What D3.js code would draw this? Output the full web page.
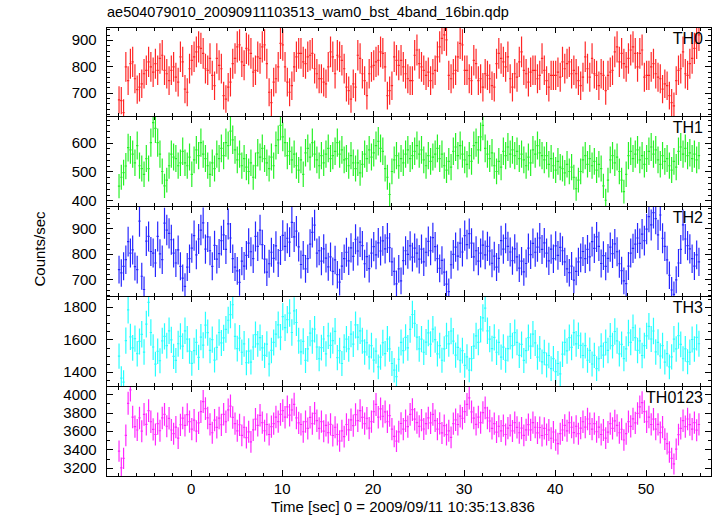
<!DOCTYPE html>
<html><head><meta charset="utf-8">
<script src="https://cdn.jsdelivr.net/npm/d3@7"></script>
<style>
body{margin:0;background:#fff}
svg{display:block}
text{font-family:"Liberation Sans",Arial,Helvetica,sans-serif;fill:#000}
</style>
</head><body>
<svg id="c" width="717" height="516"></svg>
<script>
const title = "ae504079010_20090911103513_wam0_bst_4band_16bin.qdp";
const xLabel = "Time [sec] 0 = 2009/09/11 10:35:13.836";
const yLabel = "Counts/sec";
const bandNames = ["TH0","TH1","TH2","TH3","TH0123"];
const bandColors = ["#ff0000","#00ee00","#0000ff","#00ffff","#ff00ff"];
const binStart = -8, binWidth = 0.25;
const xTickLabels = [0,10,20,30,40,50];
const yTickLabels = [[700,800,900],[400,500,600],[700,800,900],[1400,1600,1800],[3200,3400,3600,3800,4000]];
const yMinorStep = [20,20,20,50,100];
const yDomains = [[609,949],[378,690],[633,985],[1313,1863],[3110,4088]];

const th0 = [673,670,625,798,746,810,817,753,712,721,734,772,785,817,798,778,810,785,830,842,
785,772,746,785,798,759,740,836,817,714,702,791,823,836,855,874,868,849,791,785,
830,766,727,830,804,791,689,676,721,740,810,830,874,881,817,804,868,862,849,778,
785,836,830,874,881,810,702,663,740,753,798,887,881,798,740,702,727,798,836,849,
849,817,810,836,842,849,791,772,753,753,740,734,798,855,836,772,842,836,823,791,
721,708,676,734,721,842,830,772,746,689,772,798,804,817,823,855,849,798,689,708,
727,836,823,804,823,798,772,753,746,746,842,862,810,798,785,766,778,746,772,785,
836,874,906,919,900,766,753,772,785,836,887,881,785,785,753,746,823,810,746,753,
721,772,766,753,727,721,810,849,
830,817,798,836,753,721,772,759,817,855,785,772,740,778,785,785,753,766,830,785,
746,721,766,766,766,778,759,817,791,810,817,772,785,772,746,727,759,836,791,759,
830,772,766,727,772,766,708,766,778,785,855,874,817,849,810,798,830,862,874,849,
798,849,862,759,766,766,798,810,772,759,753,714,734,727,689,663,650,746,785,791,
855,772,766,810,830,868,887,919];

const th1 = [449,480,496,519, 583,575,560,530, 590,520,510,490, 545,510,600,670,
650,600,560,500, 450,470,520,560, 550,545,520,530, 570,530,520,550,
490,540,575,555, 600,560,545,520, 490,530,510,560, 545,580,555,600,
590,640,610,575, 540,560,520,545, 515,500,530,480, 520,565,550,580,
545,530,510,550, 520,590,610,660, 620,600,555,570, 540,560,520,505,
540,490,565,580, 550,600,560,540, 520,555,530,560, 580,545,555,570,
600,560,575,540, 545,520,555,530, 510,530,495,525, 560,545,575,550,
565,590,605,580, 570,510,480,420, 500,540,555,520, 545,530,560,575,
545,555,570,590, 560,575,540,520, 555,535,550,560, 580,545,560,520,
505,535,515,570, 585,555,590,560, 540,525,555,535, 590,600,575,620,
660,580,560,545, 565,520,500,535, 515,570,555,585, 560,575,555,570,
545,560,540,520, 550,530,575,560, 590,565,555,540, 555,525,545,520,
505,535,515,510, 495,525,500,515, 480,440,470,500, 540,555,525,545,
520,535,505,525, 510,450,400,470, 540,555,530,550, 500,470,430,490,
555,570,545,560, 575,540,555,525, 545,570,585,560, 575,540,525,555,
535,545,520,505, 535,515,570,585, 560,580,555,565, 545,560,540,555];

const th2 = [738,725,751,777, 848,803,815,750, 738,928,712,660, 850,868,809,803,
764,868,800,777, 920,893,880,855, 803,764,815,751, 705,672,748,781,
822,871,796,858, 893,921,818,866, 812,751,833,779, 801,852,874,817,
917,862,781,748, 733,688,771,752, 794,842,808,781, 868,829,893,836,
779,728,761,806, 782,831,764,813, 872,829,861,846, 923,866,889,827,
758,794,741,781, 838,884,912,803, 812,771,819,783, 749,788,731,776,
718,689,752,781, 806,772,823,790, 857,811,846,832, 761,789,742,803,
828,796,843,811, 851,819,862,824, 768,731,682,741, 694,773,812,798,
831,787,822,803, 779,818,768,806, 849,812,863,828, 781,743,774,728,
681,652,757,798, 826,791,842,807, 871,836,879,842, 788,812,771,803,
834,796,829,811, 763,791,748,782, 852,818,861,829, 807,773,819,788,
744,771,729,762, 822,797,841,806, 826,862,817,843, 803,772,818,781,
831,794,825,812, 768,741,726,752, 697,731,768,784, 809,781,817,788,
848,821,866,829, 762,793,751,782, 826,801,839,808, 761,734,694,683,
752,803,821,838, 862,841,877,852, 897,946,913,961, 938,874,952,861,
829,776,716,658, 641,698,764,817, 913,858,832,819, 781,752,796,768];

const th3 = [1497,1362,1338,1592, 1781,1615,1548,1604, 1512,1587,1631,1522, 1693,1826,1642,1553,
1448,1527,1469,1591, 1618,1561,1652,1597, 1496,1471,1573,1618, 1559,1652,1601,1528,
1453,1531,1582,1489, 1613,1564,1687,1641, 1532,1598,1473,1551, 1642,1578,1609,1661,
1717,1751,1812,1618, 1543,1608,1521,1572, 1457,1528,1461,1553, 1629,1572,1611,1548,
1502,1571,1449,1532, 1581,1632,1688,1613, 1739,1672,1721,1761, 1642,1774,1703,1591,
1523,1588,1471,1542, 1638,1591,1662,1553, 1481,1549,1602,1511, 1621,1563,1592,1649,
1488,1531,1452,1552, 1601,1542,1632,1571, 1688,1613,1652,1591, 1523,1579,1492,1561,
1473,1528,1431,1491, 1579,1512,1602,1541, 1452,1411,1372,1478, 1581,1531,1612,1548,
1661,1752,1698,1613, 1542,1601,1521,1583, 1639,1571,1662,1598, 1511,1562,1472,1541,
1621,1572,1651,1589, 1503,1551,1472,1531, 1441,1492,1412,1482, 1559,1621,1582,1662,
1731,1791,1652,1601, 1543,1612,1521,1582, 1491,1552,1472,1543, 1619,1561,1641,1582,
1502,1569,1471,1531, 1611,1559,1632,1578, 1491,1542,1462,1519, 1443,1501,1421,1482,
1402,1452,1389,1509, 1581,1529,1611,1551, 1641,1572,1622,1563, 1501,1561,1472,1533,
1449,1502,1421,1481, 1559,1503,1581,1532, 1619,1562,1648,1591, 1511,1569,1482,1541,
1639,1582,1671,1611, 1532,1591,1501,1562, 1621,1679,1602,1651, 1523,1582,1498,1561,
1461,1512,1431,1492, 1601,1541,1623,1569, 1481,1542,1463,1521, 1599,1541,1612,1573];

const th0123 = [3381,3198,3302,3553, 3902,4048,3752,3648, 3611,3742,3598,3781, 3672,3823,3701,3618,
3562,3681,3603,3742, 3781,3652,3738,3611, 3571,3643,3522,3668, 3741,3662,3779,3703,
3621,3718,3598,3689, 3812,3921,3843,3742, 3672,3581,3719,3639, 3741,3668,3782,3701,
3831,3872,3748,3681, 3602,3668,3553,3641, 3528,3591,3481,3612, 3729,3661,3771,3692,
3603,3671,3562,3648, 3681,3752,3702,3781, 3821,3751,3862,3772, 3829,3891,3742,3688,
3671,3592,3702,3628, 3749,3681,3792,3712, 3629,3702,3598,3661, 3583,3672,3551,3641,
3562,3491,3602,3538, 3671,3612,3722,3659, 3779,3712,3821,3748, 3681,3739,3632,3702,
3812,3889,3751,3842, 3761,3809,3701,3768, 3621,3542,3489,3591, 3682,3621,3712,3648,
3781,3832,3729,3691, 3651,3719,3622,3681, 3742,3689,3781,3712, 3621,3682,3579,3658,
3561,3602,3531,3681, 3722,3671,3762,3739, 3812,3889,3961,3808, 3741,3672,3752,3691,
3801,3851,3742,3709, 3629,3681,3588,3652, 3601,3659,3562,3631, 3662,3601,3692,3639,
3581,3632,3552,3612, 3669,3612,3691,3641, 3579,3638,3551,3629, 3562,3611,3521,3589,
3502,3462,3571,3611, 3661,3602,3692,3641, 3582,3652,3571,3631, 3701,3642,3731,3679,
3621,3681,3592,3642, 3562,3611,3522,3588, 3681,3629,3711,3662, 3581,3619,3502,3571,
3702,3651,3732,3689, 3791,3862,3909,3811, 3701,3752,3671,3729, 3621,3672,3583,3642,
3512,3462,3371,3302, 3241,3402,3561,3629, 3712,3648,3731,3669, 3621,3692,3609,3671];

const series = [th0, th1, th2, th3, th0123];

const svg = d3.select("#c");
const L = 106.7, R = 711, T = 27, B = 476;
const ph = (B - T) / 5;
const x = d3.scaleLinear().domain([-9.23, 57.2]).range([L, R]);
const xMinor = d3.range(-8, 57, 2).filter(v => v % 10 !== 0);
const xMajor = d3.range(0, 57, 10);

function styleAxis(sel){
  sel.select(".domain").remove();
  sel.selectAll("line").attr("stroke","#000").attr("shape-rendering","crispEdges");
  sel.attr("font-family",null).attr("font-size",null);
  sel.selectAll("text").attr("font-size",15).attr("fill","#000");
}

series.forEach((vals, p) => {
  const top = T + p * ph;
  const y = d3.scaleLinear().domain(yDomains[p]).range([top + ph, top]);
  const g = svg.append("g");
  const cid = "clip" + p;
  svg.append("clipPath").attr("id", cid).append("rect")
    .attr("x", L).attr("y", top).attr("width", R - L).attr("height", ph);
  let d = "";
  vals.forEach((v, i) => {
    const t0 = binStart + i * binWidth, t1 = t0 + binWidth, tc = t0 + binWidth / 2;
    const e = Math.sqrt(v * binWidth) / binWidth;
    d += `M${x(t0)},${y(v)}H${x(t1)}M${x(tc)},${y(v - e)}V${y(v + e)}`;
  });
  g.append("path").attr("d", d).attr("clip-path", `url(#${cid})`)
    .attr("fill", "none").attr("stroke", bandColors[p]).attr("stroke-width", 1.2).attr("stroke-opacity", 0.85);

  const [d0, d1] = yDomains[p];
  const st = yMinorStep[p];
  const yMinor = d3.range(Math.ceil(d0 / st) * st, d1, st).filter(v => !yTickLabels[p].includes(v));

  g.append("g").attr("transform", `translate(${L},0)`)
    .call(d3.axisLeft(y).tickValues(yTickLabels[p]).tickSize(-6).tickPadding(10).tickFormat(d3.format("d"))).call(styleAxis);
  g.append("g").attr("transform", `translate(${L},0)`)
    .call(d3.axisLeft(y).tickValues(yMinor).tickSize(-3).tickFormat("")).call(styleAxis);
  g.append("g").attr("transform", `translate(${R},0)`)
    .call(d3.axisRight(y).tickValues(yTickLabels[p]).tickSize(-6).tickFormat("")).call(styleAxis);
  g.append("g").attr("transform", `translate(${R},0)`)
    .call(d3.axisRight(y).tickValues(yMinor).tickSize(-3).tickFormat("")).call(styleAxis);

  g.append("g").attr("transform", `translate(0,${top})`)
    .call(d3.axisTop(x).tickValues(xMajor).tickSize(-6).tickFormat("")).call(styleAxis);
  g.append("g").attr("transform", `translate(0,${top})`)
    .call(d3.axisTop(x).tickValues(xMinor).tickSize(-3.5).tickFormat("")).call(styleAxis);
  const last = p === series.length - 1;
  g.append("g").attr("transform", `translate(0,${top + ph})`)
    .call(d3.axisBottom(x).tickValues(last ? xTickLabels : xMajor).tickSize(-6).tickPadding(7.5)
      .tickFormat(last ? d3.format("d") : "")).call(styleAxis);
  g.append("g").attr("transform", `translate(0,${top + ph})`)
    .call(d3.axisBottom(x).tickValues(xMinor).tickSize(-3.5).tickFormat("")).call(styleAxis);

  g.append("rect").attr("x", L).attr("y", top).attr("width", R - L).attr("height", ph)
    .attr("fill", "none").attr("stroke", "#000").attr("stroke-width", 1).attr("shape-rendering", "crispEdges");

  g.append("text").attr("x", 703).attr("y", top + 16.5).attr("text-anchor", "end")
    .attr("font-size", 16).text(bandNames[p]);
});

svg.append("text").attr("x", 107).attr("y", 17).attr("font-size", 14.5).text(title);
svg.append("text").attr("x", 403).attr("y", 512).attr("text-anchor", "middle").attr("font-size", 15).text(xLabel);
svg.append("text").attr("transform", "translate(45,249) rotate(-90)").attr("text-anchor", "middle")
  .attr("font-size", 15).text(yLabel);
</script>
</body></html>
